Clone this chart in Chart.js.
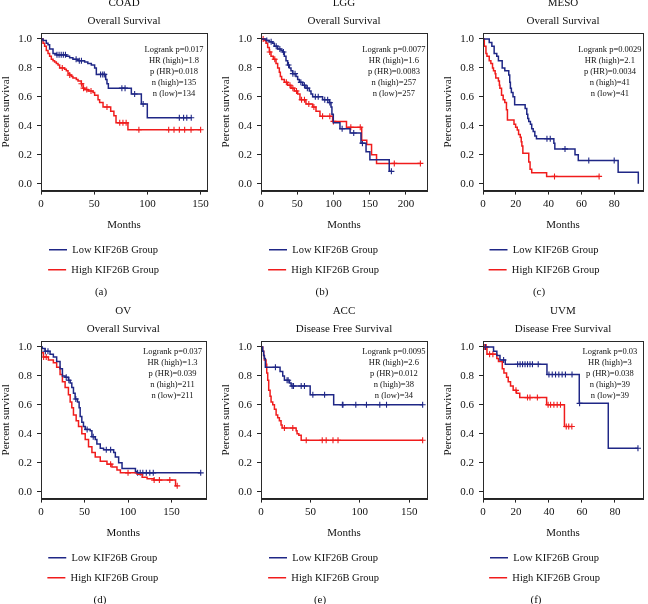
<!DOCTYPE html>
<html><head><meta charset="utf-8">
<script src="https://cdn.jsdelivr.net/npm/chart.js@4.4.0/dist/chart.umd.min.js"></script>
<style>
html,body{margin:0;padding:0;background:#fff;overflow:hidden;width:648px;height:604px;position:relative}
canvas{position:absolute}
</style></head><body>
<canvas id="c0" width="216" height="308" style="left:0px;top:-8px"></canvas>
<canvas id="c1" width="216" height="308" style="left:216px;top:-8px"></canvas>
<canvas id="c2" width="216" height="308" style="left:432px;top:-8px"></canvas>
<canvas id="c3" width="216" height="308" style="left:0px;top:300px"></canvas>
<canvas id="c4" width="216" height="308" style="left:216px;top:300px"></canvas>
<canvas id="c5" width="216" height="308" style="left:432px;top:300px"></canvas>
<script>
// ---------- DATA ----------
const seriesNames = ['Low KIF26B Group', 'High KIF26B Group'];
const yTicks = [0, 0.2, 0.4, 0.6, 0.8, 1.0];

// (a) COAD
const coadLowT = [0,1.9,5,6.6,8.1,11.3,14.4,23.8,26.9,30,34.8,41,44,47.3,50.4,52,60.8,62,63.3,84.9,94.3,99.9,141.2];
const coadLowS = [1,0.99,0.97,0.96,0.93,0.90,0.89,0.88,0.87,0.86,0.85,0.84,0.83,0.82,0.80,0.755,0.72,0.69,0.66,0.62,0.55,0.455,0.455];
const coadLowCens = [15,17,19,21,23,33,36,38,56,58,59.5,76,79,88,96,130,134,137,141.2];
const coadHighT = [0,1.9,3.4,5,6.6,8.1,9.7,11.3,12.8,14.4,16,17.5,22.2,23.8,25.4,26.9,28.5,30,33.2,34.8,37.9,39.5,41,44.2,48.9,50.4,53.6,55.1,58.3,65.5,68.5,70.5,81.7,150];
const coadHighS = [1,0.97,0.95,0.92,0.90,0.88,0.86,0.85,0.84,0.83,0.82,0.80,0.79,0.78,0.76,0.75,0.74,0.73,0.72,0.71,0.69,0.66,0.65,0.64,0.63,0.61,0.58,0.56,0.53,0.50,0.47,0.42,0.372,0.372];
const coadHighCens = [20,27,38,40,43,47,62,74,77,80,92,120,125,130,135,141,150];
const coadXTicks = [0,50,100,150];
const coadStats = ['Logrank p=0.017','HR (high)=1.8','p (HR)=0.018','n (high)=135','n (low)=134'];

// (b) LGG
const lggLowT = [0,6.9,11.5,16,18.4,23,27.6,29.9,32.2,34.5,36.8,39.1,41.4,43.7,48.3,50.6,52.9,57.5,62,66.7,69,71.3,85,94.3,96.6,97.9,99.8,109,123,138,145,150.3,177,180];
const lggLowS = [1,0.99,0.98,0.97,0.95,0.93,0.92,0.91,0.88,0.85,0.82,0.80,0.78,0.76,0.74,0.72,0.70,0.68,0.66,0.64,0.62,0.60,0.58,0.56,0.53,0.48,0.42,0.38,0.35,0.28,0.22,0.165,0.085,0.085];
const lggLowCens = [8,14,21,26,31,38,44,47,55,60,64,75,79,88,92,95,112,128,140,180];
const lggHighT = [0,4.6,6.9,9.2,11.5,13.8,17,20.7,23,25.3,26.7,28.5,32.2,36.8,41.4,46,50.6,53.8,62,71.3,75.9,81.4,98.9,118,139,146,152.6,159.5,220];
const lggHighS = [1,0.99,0.97,0.94,0.91,0.88,0.86,0.83,0.80,0.77,0.74,0.72,0.70,0.68,0.66,0.64,0.62,0.58,0.55,0.53,0.50,0.465,0.43,0.39,0.30,0.27,0.20,0.14,0.14];
const lggHighCens = [3,12,19,35,40,44,49,56,60,66,73,85,95,100,124,137,184,220];
const lggXTicks = [0,50,100,150,200];
const lggStats = ['Logrank p=0.0077','HR (high)=1.6','p (HR)=0.0083','n (high)=257','n (low)=257'];

// (c) MESO
const mesoLowT = [0,3.8,5.4,6.8,8.4,9.4,11.7,13.3,15.7,16.3,16.7,17.3,18.3,19.3,25.7,26.7,27.3,27.9,28.9,29.7,30.6,31.6,32.6,43.2,43.8,56.1,58.1,82.4,94.7];
const mesoLowS = [1,0.975,0.95,0.90,0.88,0.85,0.80,0.78,0.75,0.70,0.66,0.63,0.60,0.545,0.52,0.48,0.45,0.43,0.41,0.38,0.36,0.33,0.31,0.28,0.24,0.20,0.16,0.078,0];
const mesoLowCens = [39,41,50,64.5,80];
const mesoHighT = [0,0.8,1.8,2.4,3.8,4.8,5.8,6.4,7.4,7.8,9.4,10,10.3,11.3,12.3,13.3,14.3,14.9,18.9,19.9,20.9,21.7,22.7,23.3,23.7,24.3,27.9,28.7,29.7,38.8,70.8];
const mesoHighS = [1,0.95,0.90,0.88,0.85,0.83,0.80,0.78,0.76,0.73,0.71,0.68,0.66,0.61,0.58,0.56,0.51,0.44,0.41,0.39,0.37,0.34,0.32,0.29,0.26,0.21,0.15,0.10,0.075,0.05,0.05];
const mesoHighCens = [43.6,70.8];
const mesoXTicks = [0,20,40,60,80];
const mesoStats = ['Logrank p=0.0029','HR (high)=2.1','p (HR)=0.0034','n (high)=41','n (low)=41'];

// (d) OV
const ovLowT = [0,1.5,4.6,10.4,14.2,18,21.9,24.6,27.7,31.5,33.5,35.4,37.3,39.2,41.9,43.8,45,46.9,48.8,50.8,56.5,58.5,62.3,64.2,68.1,71.9,83.5,85.4,89.2,93.1,108.5,110.4,183.5];
const ovLowS = [1,0.99,0.97,0.95,0.93,0.90,0.85,0.80,0.79,0.77,0.75,0.72,0.68,0.64,0.62,0.58,0.52,0.48,0.45,0.43,0.42,0.38,0.36,0.33,0.30,0.29,0.27,0.24,0.20,0.16,0.14,0.13,0.13];
const ovLowCens = [5,8,29,32,40,53,60,75,80,111,114,117,121,125,129,183.5];
const ovHighT = [0,0.5,2.7,8.5,14.2,18,21.9,24.6,27.7,31.5,33.5,35.4,37.3,40.4,43.1,46.9,50.8,54.6,58.5,62.3,68.1,75.8,81.5,87.3,91.2,110.4,116.2,121.9,129.6,154.6,156.5];
const ovHighS = [1,0.96,0.93,0.91,0.89,0.86,0.81,0.76,0.72,0.67,0.62,0.58,0.53,0.49,0.45,0.40,0.36,0.31,0.27,0.24,0.21,0.19,0.17,0.15,0.13,0.12,0.10,0.09,0.08,0.04,0.04];
const ovHighCens = [3,6,80,100,130,136,148,156.5];
const ovXTicks = [0,50,100,150];
const ovStats = ['Logrank p=0.037','HR (high)=1.3','p (HR)=0.039','n (high)=211','n (low)=211'];

// (e) ACC
const accLowT = [0,1.7,2.7,3.4,4.4,19.3,22,23.7,28.8,30.5,49.8,73.6,163.7];
const accLowS = [1,0.97,0.94,0.92,0.86,0.83,0.80,0.77,0.75,0.73,0.67,0.60,0.60];
const accLowCens = [14.6,26.4,27.5,31.5,32.9,40.7,44,52.5,64.4,82.4,83,96,106.8,120.3,127.1,163.7];
const accHighT = [0,1.7,2.7,3.4,5.1,5.8,6.8,7.8,9.2,10.2,11.9,13.6,15.3,16.9,18.6,20.3,21.4,35.6,36.5,38.3,40.7,163.7];
const accHighS = [1,0.97,0.94,0.91,0.88,0.82,0.77,0.70,0.66,0.62,0.60,0.57,0.53,0.51,0.49,0.46,0.44,0.42,0.40,0.39,0.355,0.355];
const accHighCens = [23.7,32.2,45.8,62,66,72.9,78,163.7];
const accXTicks = [0,50,100,150];
const accStats = ['Logrank p=0.0095','HR (high)=2.6','p (HR)=0.012','n (high)=38','n (low)=34'];

// (f) UVM
const uvmLowT = [0,6.4,8.4,10.3,13.5,38.8,58.4,76,94];
const uvmLowS = [1,0.97,0.94,0.91,0.88,0.81,0.61,0.30,0.30];
const uvmLowCens = [1.5,12.5,21,22.5,24,25.5,27,28.5,30,33.5,40,42,44,46,48,50,54,58.6,94];
const uvmHighT = [0,2.4,8.4,9.4,11.7,12.7,14.3,15.3,16.7,18.3,20.3,22.3,38.6,49.4,53.9];
const uvmHighS = [1,0.95,0.92,0.90,0.85,0.82,0.79,0.76,0.73,0.70,0.68,0.65,0.60,0.45,0.45];
const uvmHighCens = [1,2,4,6,20,27,28.5,33,39.5,41,43,45,47,50.5,52,53.9];
const uvmXTicks = [0,20,40,60,80];
const uvmStats = ['Logrank p=0.03','HR (high)=3','p (HR)=0.038','n (high)=39','n (low)=39'];

const panelTitles = ['COAD','LGG','MESO','OV','ACC','UVM'];
const panelSubtitles = ['Overall Survival','Overall Survival','Overall Survival','Overall Survival','Disease Free Survival','Disease Free Survival'];
const panelLetters = ['(a)','(b)','(c)','(d)','(e)','(f)'];

// ---------- RENDERING ----------
const FONT = "'Liberation Serif', 'DejaVu Serif', serif";
Chart.defaults.font.family = FONT;
Chart.defaults.font.size = 11;
Chart.defaults.color = '#111';
const BLUE = '#1f2786';
const RED = '#f01c1c';

function curve(T, S) { return T.map((t, i) => ({x: t, y: S[i]})); }
function stepValue(T, S, t) { let v = S[0]; for (let i = 0; i < T.length; i++) if (T[i] <= t) v = S[i]; return v; }
function marks(T, S, C) { return C.map(t => ({x: t, y: stepValue(T, S, t)})); }

const extras = {
  id: 'extras',
  afterDraw(chart, args, o) {
    const ctx = chart.ctx, ca = chart.chartArea;
    ctx.save();
    ctx.strokeStyle = '#2a2a2a'; ctx.lineWidth = 1;
    ctx.strokeRect(Math.round(ca.left) + 0.5, Math.round(ca.top) + 0.5, Math.round(ca.right - ca.left), Math.round(ca.bottom - ca.top));
    ctx.fillStyle = '#111';
    ctx.font = "8.5px " + FONT;
    ctx.textAlign = 'center'; ctx.textBaseline = 'middle';
    const cx = ca.right - 33;
    const y0 = chart.scales.y.getPixelForValue(1) + o.dy;
    o.stats.forEach((s, i) => ctx.fillText(s, cx, y0 + i * 11));
    ctx.font = "11px " + FONT;
    ctx.fillText(o.letter, o.letterX, 300);
    ctx.restore();
  }
};

const panels = [
  {T1: coadLowT, S1: coadLowS, C1: coadLowCens, T2: coadHighT, S2: coadHighS, C2: coadHighCens, xt: coadXTicks, st: coadStats, padL: 0, padR: 9, xMax: 156, dy: 10.5, lx: 101},
  {T1: lggLowT, S1: lggLowS, C1: lggLowCens, T2: lggHighT, S2: lggHighS, C2: lggHighCens, xt: lggXTicks, st: lggStats, padL: 4, padR: 5, xMax: 229, dy: 10.5, lx: 106},
  {T1: mesoLowT, S1: mesoLowS, C1: mesoLowCens, T2: mesoHighT, S2: mesoHighS, C2: mesoHighCens, xt: mesoXTicks, st: mesoStats, padL: 10, padR: 2, xMax: 97.5, dy: 10.5, lx: 107},
  {T1: ovLowT, S1: ovLowS, C1: ovLowCens, T2: ovHighT, S2: ovHighS, C2: ovHighCens, xt: ovXTicks, st: ovStats, padL: 0, padR: 10.5, xMax: 189, dy: 5, lx: 100},
  {T1: accLowT, S1: accLowS, C1: accLowCens, T2: accHighT, S2: accHighS, C2: accHighCens, xt: accXTicks, st: accStats, padL: 4, padR: 5, xMax: 168, dy: 5, lx: 104},
  {T1: uvmLowT, S1: uvmLowS, C1: uvmLowCens, T2: uvmHighT, S2: uvmHighS, C2: uvmHighCens, xt: uvmXTicks, st: uvmStats, padL: 10, padR: 1, xMax: 97, dy: 5, lx: 104}
];

panels.forEach((p, k) => {
  const lineDs = (label, T, S, color) => ({label, data: curve(T, S), borderColor: color, backgroundColor: color,
    borderWidth: 1.5, stepped: 'before', pointRadius: 0, fill: false, tension: 0});
  const censDs = (T, S, C, color) => ({label: 'censored', data: marks(T, S, C), showLine: false, borderColor: color,
    backgroundColor: color, pointStyle: 'cross', pointRadius: 3, borderWidth: 1.1});
  new Chart(document.getElementById('c' + k), {
    type: 'line',
    data: {datasets: [
      lineDs(seriesNames[0], p.T1, p.S1, BLUE),
      lineDs(seriesNames[1], p.T2, p.S2, RED),
      censDs(p.T1, p.S1, p.C1, BLUE),
      censDs(p.T2, p.S2, p.C2, RED)
    ]},
    options: {
      responsive: false, animation: false, events: [], devicePixelRatio: 1,
      layout: {padding: {left: p.padL, right: p.padR, top: 0, bottom: 15}},
      scales: {
        x: {type: 'linear', min: 0, max: p.xMax,
          afterBuildTicks: s => { s.ticks = p.xt.map(v => ({value: v})); },
          ticks: {padding: 3, color: '#111', font: {size: 11}},
          grid: {drawOnChartArea: false, drawTicks: true, tickLength: 4, color: '#222'},
          border: {display: true, color: '#222', width: 1},
          title: {display: true, text: 'Months', color: '#111', font: {size: 11}, padding: {top: 5, bottom: 3}}},
        y: {type: 'linear', min: -0.048, max: 1.041,
          afterBuildTicks: s => { s.ticks = yTicks.map(v => ({value: v})); },
          afterFit: s => { s.width = 41; },
          ticks: {padding: 5, color: '#111', font: {size: 11}, callback: v => Number(v).toFixed(1)},
          grid: {drawOnChartArea: false, drawTicks: true, tickLength: 4, color: '#222'},
          border: {display: true, color: '#222', width: 1},
          title: {display: true, text: 'Percent survival', color: '#111', font: {size: 11}, padding: {top: 0, bottom: 0}}}
      },
      plugins: {
        title: {display: true, text: panelTitles[k], fullSize: false, color: '#111', font: {size: 11, weight: 'normal'}, padding: {top: 4.4, bottom: 0}},
        subtitle: {display: true, text: panelSubtitles[k], fullSize: false, color: '#111', font: {size: 11}, padding: {top: 4.8, bottom: 5.4}},
        legend: {display: true, position: 'bottom',
          labels: {filter: it => it.datasetIndex < 2, usePointStyle: true, pointStyle: 'line', pointStyleWidth: 18,
            color: '#111', font: {size: 10.5}, padding: 9.5}},
        tooltip: {enabled: false},
        extras: {stats: p.st, dy: p.dy, letter: panelLetters[k], letterX: p.lx}
      }
    },
    plugins: [extras]
  });
});
</script>
</body></html>
